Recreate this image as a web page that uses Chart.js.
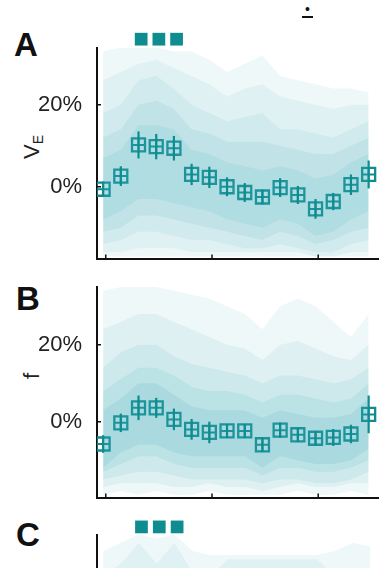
<!DOCTYPE html>
<html>
<head>
<meta charset="utf-8">
<script src="https://cdn.jsdelivr.net/npm/chart.js@4.4.0/dist/chart.umd.min.js"></script>
<style>
  html, body { margin: 0; padding: 0; width: 379px; height: 568px; overflow: hidden; background: #fff; }
  body { position: relative; font-family: "Liberation Sans", Arial, sans-serif; }
  canvas { position: absolute; left: 0; }
  .letter { position: absolute; font-weight: bold; font-size: 33px; line-height: 1; color: #111; }
  .ylab { position: absolute; font-size: 22px; line-height: 1; color: #222; white-space: nowrap;
          transform: translate(-50%, -50%) rotate(-90deg); }
  .ylab sub { font-size: 14px; vertical-align: -4px; }
  .mark { position: absolute; left: 302px; top: 2px; width: 11px; text-align: center;
          font-size: 14px; line-height: 14px; border-bottom: 2px solid #111; color: #111; }
</style>
</head>
<body>
<div class="mark">•</div>
<div class="letter" style="left:14px;top:28px;">A</div>
<div class="letter" style="left:16px;top:282px;">B</div>
<div class="letter" style="left:16px;top:518px;">C</div>
<div class="ylab" style="left:33px;top:147px;">V<sub>E</sub></div>
<div class="ylab" style="left:32px;top:376px;">f</div>

<canvas id="chartA" width="480" height="250" style="top:20px"></canvas>
<canvas id="chartB" width="480" height="249" style="top:260px"></canvas>
<canvas id="chartC" width="480" height="252" style="top:505px"></canvas>

<script>
// block positions (x) shared by all panels
const xPos = [1, 2, 3, 4, 5, 6, 7, 8, 9, 10, 11, 12, 13, 14, 15, 16];
const xTickVals = [1.15, 7.15, 13.15, 19.15];
const yTickVals = [0, 20];

// significant blocks (squares above panels)
const sigX = [3.15, 4.15, 5.15];

// A: V_E, mean +- error (%)
const veMean = [-0.6, 2.6, 10.2, 9.8, 9.4, 3.0, 2.3, 0.0, -1.4, -2.5, -0.2, -2.0, -5.4, -3.6, 0.5, 3.0];
const veErr = [1.9, 2.4, 3.3, 3.1, 3.0, 2.6, 2.6, 2.3, 2.3, 1.8, 2.3, 2.2, 2.4, 2.1, 2.5, 3.4];

// B: f, mean +- error (%)
const fMean = [-5.8, -0.3, 3.6, 3.6, 0.6, -2.0, -2.8, -2.4, -2.4, -6.0, -2.2, -3.4, -4.3, -4.1, -3.2, 1.9];
const fErr = [2.3, 2.4, 3.2, 2.6, 2.8, 2.7, 2.8, 1.8, 1.8, 1.9, 2.0, 1.9, 1.9, 2.2, 2.4, 4.9];

// individual subject spread, drawn as layered shaded envelopes (%)
const veL1Hi = [33, 34, 34, 34, 33, 33, 31, 28, 30, 32, 27, 26, 25, 24, 24, 23];
const veL1Lo = [-17, -17, -17, -17, -17, -17, -17, -17, -17, -17, -17, -17, -17, -17, -17, -17];
const veL2Hi = [26, 28, 30, 31, 29, 27, 25, 22, 24, 25, 22, 21, 20, 19, 20, 20];
const veL2Lo = [-16, -16, -15, -15, -15, -16, -16, -16, -16, -16, -16, -16, -17, -17, -16, -16];
const veL3Hi = [18, 20, 26, 27, 24, 20, 18, 16, 17, 18, 14, 14, 13, 12, 14, 16];
const veL3Lo = [-14, -13, -11, -11, -12, -13, -13, -14, -15, -15, -14, -15, -16, -16, -14, -13];
const veL4Hi = [12, 14, 20, 21, 19, 14, 13, 11, 11, 11, 10, 9, 8, 8, 10, 12];
const veL4Lo = [-11, -10, -7, -7, -8, -9, -10, -11, -12, -13, -11, -12, -14, -13, -11, -10];
const veL5Hi = [7, 9, 15, 15, 14, 9, 8, 6, 5, 4, 5, 4, 2, 3, 6, 8];
const veL5Lo = [-8, -6, -3, -3, -4, -5, -6, -8, -9, -10, -8, -9, -12, -11, -8, -6];

const fL1Hi = [34, 35, 35, 35, 34, 33, 32, 30, 28, 24, 30, 32, 30, 26, 22, 28];
const fL1Lo = [-19, -18, -19, -18, -19, -19, -18, -19, -19, -19, -19, -18, -19, -19, -18, -19];
const fL2Hi = [24, 26, 28, 28, 26, 24, 22, 20, 19, 16, 20, 21, 19, 17, 16, 20];
const fL2Lo = [-17, -16, -16, -16, -17, -17, -16, -17, -17, -18, -17, -16, -17, -17, -16, -16];
const fL3Hi = [14, 18, 20, 20, 17, 15, 14, 13, 12, 10, 12, 12, 11, 10, 11, 14];
const fL3Lo = [-15, -14, -13, -13, -14, -15, -15, -15, -15, -16, -15, -15, -16, -16, -15, -13];
const fL4Hi = [8, 11, 14, 14, 12, 9, 8, 8, 7, 5, 7, 7, 6, 5, 6, 10];
const fL4Lo = [-13, -11, -9, -9, -11, -12, -12, -12, -12, -14, -12, -12, -13, -13, -12, -10];
const fL5Hi = [3, 6, 10, 10, 7, 4, 3, 3, 3, 1, 3, 2, 1, 1, 2, 6];
const fL5Lo = [-12, -8, -6, -6, -8, -9, -9, -9, -9, -12, -9, -10, -11, -11, -10, -7];

const cL1Hi = [30, 32, 34, 33, 34, 30, 29, 29, 29, 29, 29, 29, 29, 30, 32, 31];
const cL1Lo = [-17, -17, -17, -17, -17, -17, -17, -17, -17, -17, -17, -17, -17, -17, -17, -17];
const cL2Hi = [24, 27, 32, 27, 32, 25, 24, 28, 28, 28, 28, 28, 28, 24, 25, 25];
const cL2Lo = [-14, -13, -11, -11, -12, -13, -13, -14, -15, -15, -14, -15, -16, -16, -14, -13];

const TEAL = "rgb(14, 140, 144)";
const SHADE = "rgba(50, 168, 176, ";

function pts(ys) {
  return xPos.map((x, i) => ({ x: x, y: ys[i] }));
}

function band(hi, lo, alpha) {
  return [
    { type: "line", data: pts(hi), borderWidth: 0, pointRadius: 0, tension: 0,
      fill: "+1", backgroundColor: SHADE + alpha + ")" },
    { type: "line", data: pts(lo), borderWidth: 0, pointRadius: 0, tension: 0, fill: false },
  ];
}

// error bars through the markers
const errorBars = {
  id: "errorBars",
  afterDatasetsDraw(chart, args, opts) {
    if (!opts.means) return;
    const { ctx, scales: { x, y } } = chart;
    ctx.save();
    ctx.strokeStyle = TEAL;
    ctx.lineWidth = 2.2;
    opts.means.forEach((m, i) => {
      const px = x.getPixelForValue(xPos[i]);
      ctx.beginPath();
      ctx.moveTo(px, y.getPixelForValue(m - opts.errs[i]));
      ctx.lineTo(px, y.getPixelForValue(m + opts.errs[i]));
      ctx.stroke();
    });
    ctx.restore();
  }
};

// small ticks pointing into the plot
const inwardTicks = {
  id: "inwardTicks",
  afterDraw(chart) {
    const { ctx, chartArea: a, scales: { x, y } } = chart;
    ctx.save();
    ctx.strokeStyle = "#111";
    ctx.lineWidth = 1.5;
    ctx.beginPath();
    y.ticks.forEach((t) => {
      const py = y.getPixelForValue(t.value);
      if (py < a.top || py > a.bottom) return;
      ctx.moveTo(a.left, py);
      ctx.lineTo(a.left + 4, py);
    });
    x.ticks.forEach((t) => {
      const px = x.getPixelForValue(t.value);
      if (px < a.left || px > a.right) return;
      ctx.moveTo(px, a.bottom);
      ctx.lineTo(px, a.bottom - 4);
    });
    ctx.stroke();
    ctx.restore();
  }
};

function makePanel(id, cfg) {
  const datasets = [];
  cfg.bands.forEach((b) => datasets.push(...band(b[0], b[1], b[2])));
  if (cfg.mean) {
    datasets.push({ type: "scatter", data: pts(cfg.mean), pointStyle: "rect", pointRadius: 9.2,
      backgroundColor: "rgba(0,0,0,0)", borderColor: TEAL, borderWidth: 2.3 });
    datasets.push({ type: "scatter", data: pts(cfg.mean), pointStyle: "cross", pointRadius: 6.5,
      borderColor: TEAL, borderWidth: 2 });
  }
  if (cfg.sigY !== undefined) {
    datasets.push({ type: "scatter", data: sigX.map((x) => ({ x: x, y: cfg.sigY })), clip: false,
      pointStyle: "rect", pointRadius: 9, backgroundColor: TEAL, borderWidth: 0 });
  }

  return new Chart(document.getElementById(id), {
    type: "scatter",
    data: { datasets: datasets },
    options: {
      responsive: false,
      animation: false,
      events: [],
      layout: { padding: { top: cfg.padTop, left: 0, right: 0, bottom: 0 } },
      plugins: {
        legend: { display: false },
        tooltip: { enabled: false },
        errorBars: { means: cfg.mean, errs: cfg.err },
      },
      scales: {
        x: {
          type: "linear", min: 0.655, max: 21.64,
          grid: { display: false },
          border: { display: true, color: "#111", width: 2 },
          ticks: { display: false },
          afterBuildTicks: (s) => { s.ticks = xTickVals.map((v) => ({ value: v })); },
          afterFit: (s) => { s.height = cfg.xHeight; s.paddingLeft = 0; s.paddingRight = 0; },
        },
        y: {
          type: "linear", min: cfg.yMin, max: cfg.yMax,
          grid: { display: false },
          border: { display: true, color: "#111", width: 2 },
          ticks: {
            padding: 7, color: "#222",
            font: { family: "'Liberation Sans', Arial, sans-serif", size: 22 },
            callback: (v) => v + "%",
          },
          afterBuildTicks: (s) => { s.ticks = cfg.yTicks.map((v) => ({ value: v })); },
          afterFit: (s) => { s.width = 97; s.paddingTop = 0; s.paddingBottom = 0; },
        },
      },
    },
    plugins: [errorBars, inwardTicks],
  });
}

makePanel("chartA", {
  padTop: 28, xHeight: 8, yMin: -17.5, yMax: 33.85, yTicks: yTickVals,
  bands: [[veL1Hi, veL1Lo, 0.08], [veL2Hi, veL2Lo, 0.08], [veL3Hi, veL3Lo, 0.09],
          [veL4Hi, veL4Lo, 0.1], [veL5Hi, veL5Lo, 0.11]],
  mean: veMean, err: veErr, sigY: 36,
});

makePanel("chartB", {
  padTop: 27, xHeight: 8, yMin: -19.7, yMax: 35, yTicks: yTickVals,
  bands: [[fL1Hi, fL1Lo, 0.08], [fL2Hi, fL2Lo, 0.09], [fL3Hi, fL3Lo, 0.1],
          [fL4Hi, fL4Lo, 0.11], [fL5Hi, fL5Lo, 0.12]],
  mean: fMean, err: fErr,
});

makePanel("chartC", {
  padTop: 30, xHeight: 8, yMin: -17.5, yMax: 33.85, yTicks: yTickVals,
  bands: [[cL1Hi, cL1Lo, 0.08], [cL2Hi, cL2Lo, 0.08]],
  sigY: 35.8,
});
</script>
</body>
</html>
